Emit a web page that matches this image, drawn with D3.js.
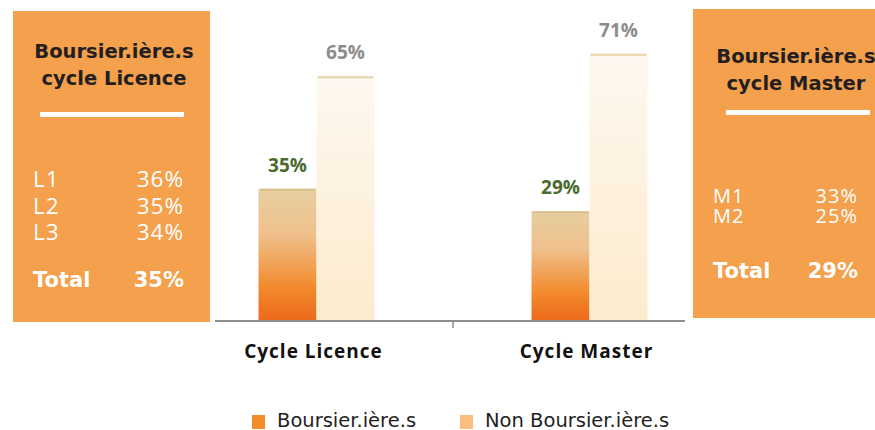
<!doctype html>
<html lang="fr">
    <head>
        <meta charset="utf-8">
        <title>Boursier.ière.s</title>
        <script src="https://cdn.jsdelivr.net/npm/d3@7"></script>
        <style>
            body { margin: 0; background: #fff; }
            svg { display: block; }
            .panel-title { font-family: "DejaVu Sans", sans-serif; font-weight: bold; fill: #231f20; }
            .panel-row { font-family: "Open Sans", sans-serif; font-weight: 400; fill: #fff; letter-spacing: 1px; }
            .panel-total { font-family: "DejaVu Sans", sans-serif; font-weight: bold; fill: #fff; }
            .cat-label { font-family: "Open Sans", sans-serif; font-weight: bold; font-size: 19px; letter-spacing: 1px; fill: #111; }
            .val-label { font-family: "Open Sans", sans-serif; font-weight: bold; font-size: 19px; }
            .legend-text { font-family: "DejaVu Sans", sans-serif; font-size: 19.5px; fill: #231f20; }
        </style>
    </head>
    <body>
        <div id="d3Canvas"></div>

        <script type="text/javascript">

            // data
            var categories = ["Cycle Licence", "Cycle Master"];
            var seriesNames = ["Boursier.ière.s", "Non Boursier.ière.s"];
            var boursiers = [35, 29];
            var nonBoursiers = [65, 71];

            // side panels
            var licenceRows = ["L1", "L2", "L3"];
            var licenceValues = [36, 35, 34];
            var licenceTotal = 35;
            var masterRows = ["M1", "M2"];
            var masterValues = [33, 25];
            var masterTotal = 29;

            var width = 875, height = 430;

            var svg = d3.select("#d3Canvas").append("svg")
                .attr("width", width)
                .attr("height", height);

            var defs = svg.append("defs");

            // gradient for the boursier bars (orange at the bottom, tan at top)
            var g1 = defs.append("linearGradient").attr("id", "gradB")
                .attr("x1", 0).attr("y1", 0).attr("x2", 0).attr("y2", 1);
            g1.append("stop").attr("offset", "0%").attr("stop-color", "#e6cfa0");
            g1.append("stop").attr("offset", "35%").attr("stop-color", "#f0c08c");
            g1.append("stop").attr("offset", "75%").attr("stop-color", "#f28a2c");
            g1.append("stop").attr("offset", "100%").attr("stop-color", "#ec6a1c");

            var g2 = defs.append("linearGradient").attr("id", "gradN")
                .attr("x1", 0).attr("y1", 0).attr("x2", 0).attr("y2", 1);
            g2.append("stop").attr("offset", "0%").attr("stop-color", "#fdf8f0");
            g2.append("stop").attr("offset", "100%").attr("stop-color", "#fdebcd");

            // scales
            var x0 = d3.scaleBand().domain(categories).range([180, 726]);
            var x1 = d3.scaleBand().domain(seriesNames).range([0, 116]);
            var y = d3.scaleLinear().domain([0, 80]).range([320, 20]);

            var rows = categories.map(function(c, i) {
                return { cat: c, values: [boursiers[i], nonBoursiers[i]] };
            });

            var fills = ["url(#gradB)", "url(#gradN)"];
            var topLines = ["#d9c08e", "#e6d4a6"];
            var labelColors = ["#4b6b2c", "#8c8c8c"];

            var groups = svg.selectAll(".grp").data(rows).enter().append("g")
                .attr("class", "grp")
                .attr("transform", function(d) {
                    return "translate(" + (x0(d.cat) + x0.bandwidth() / 2 - 58) + ",0)";
                });

            var barData = function(d) {
                return d.values.map(function(v, j) { return { s: seriesNames[j], v: v, j: j }; });
            };

            groups.selectAll("rect.bar").data(barData).enter().append("rect")
                .attr("class", "bar")
                .attr("x", function(d) { return x1(d.s); })
                .attr("y", function(d) { return y(d.v); })
                .attr("width", x1.bandwidth())
                .attr("height", function(d) { return y(0) - y(d.v); })
                .style("fill", function(d) { return fills[d.j]; });

            groups.selectAll("line.top").data(barData).enter().append("line")
                .attr("x1", function(d) { return x1(d.s) + 1; })
                .attr("x2", function(d) { return x1(d.s) + x1.bandwidth() - 1; })
                .attr("y1", function(d) { return y(d.v) + 1; })
                .attr("y2", function(d) { return y(d.v) + 1; })
                .attr("stroke", function(d) { return topLines[d.j]; })
                .attr("stroke-width", 2);

            groups.selectAll("text.val").data(barData).enter().append("text")
                .attr("class", "val-label")
                .attr("x", function(d) { return x1(d.s) + x1.bandwidth() / 2; })
                .attr("y", function(d) { return y(d.v) - 17; })
                .attr("text-anchor", "middle")
                .style("fill", function(d) { return labelColors[d.j]; })
                .text(function(d) { return d.v + "%"; });

            // x axis: baseline with one tick between the groups
            svg.append("line")
                .attr("x1", 215).attr("x2", 685)
                .attr("y1", y(0) + 1).attr("y2", y(0) + 1)
                .attr("stroke", "#8e8e8e").attr("stroke-width", 2);
            svg.append("line")
                .attr("x1", x0.range()[0] + x0.step()).attr("x2", x0.range()[0] + x0.step())
                .attr("y1", y(0) + 1).attr("y2", y(0) + 8)
                .attr("stroke", "#8e8e8e").attr("stroke-width", 1.5);

            svg.selectAll(".cat-label").data(categories).enter().append("text")
                .attr("class", "cat-label")
                .attr("x", function(d) { return x0(d) + x0.bandwidth() / 2 - 3; })
                .attr("y", 358)
                .attr("text-anchor", "middle")
                .text(function(d) { return d; });

            // legend
            var legendX = [252, 460];
            var legendColors = ["#f28c28", "#f9bf80"];
            var legend = svg.selectAll(".leg").data(seriesNames).enter().append("g")
                .attr("transform", function(d, i) { return "translate(" + legendX[i] + ",415)"; });
            legend.append("rect").attr("width", 13).attr("height", 14)
                .style("fill", function(d, i) { return legendColors[i]; });
            legend.append("text").attr("class", "legend-text")
                .attr("x", 25).attr("y", 12)
                .text(function(d) { return d; });

            // side panels
            var drawPanel = function(p) {
                var g = svg.append("g");
                g.append("rect")
                    .attr("x", p.x).attr("y", p.y)
                    .attr("width", p.w).attr("height", p.h)
                    .style("fill", "#f4a04c");
                g.append("text").attr("class", "panel-title")
                    .attr("x", p.cx).attr("y", p.titleY)
                    .attr("text-anchor", "middle")
                    .style("font-size", "19.5px")
                    .text("Boursier.ière.s");
                g.append("text").attr("class", "panel-title")
                    .attr("x", p.cx).attr("y", p.titleY + 27)
                    .attr("text-anchor", "middle")
                    .style("font-size", "19.5px")
                    .text(p.sub);
                g.append("rect")
                    .attr("x", p.lineX1).attr("y", p.lineY)
                    .attr("width", p.lineX2 - p.lineX1).attr("height", 5)
                    .style("fill", "#fff");
                p.rows.forEach(function(r, i) {
                    g.append("text").attr("class", "panel-row")
                        .attr("x", p.lx).attr("y", p.rowY + i * p.rowGap)
                        .style("font-size", p.fs + "px")
                        .text(r);
                    g.append("text").attr("class", "panel-row")
                        .attr("x", p.rx).attr("y", p.rowY + i * p.rowGap)
                        .attr("text-anchor", "end")
                        .style("font-size", p.fs + "px")
                        .text(p.values[i] + "%");
                });
                g.append("text").attr("class", "panel-total")
                    .attr("x", p.lx).attr("y", p.totalY)
                    .style("font-size", "21px")
                    .text("Total");
                g.append("text").attr("class", "panel-total")
                    .attr("x", p.rx).attr("y", p.totalY)
                    .attr("text-anchor", "end")
                    .style("font-size", "21px")
                    .text(p.total + "%");
            };

            drawPanel({
                x: 13, y: 11, w: 197, h: 311, cx: 114, titleY: 58,
                sub: "cycle Licence", lineX1: 40, lineX2: 184, lineY: 112,
                rows: licenceRows, values: licenceValues, total: licenceTotal,
                lx: 33, rx: 184, rowY: 187, rowGap: 26.5, fs: 22.5, totalY: 287
            });

            drawPanel({
                x: 693, y: 9, w: 182, h: 309, cx: 796, titleY: 63,
                sub: "cycle Master", lineX1: 726, lineX2: 870, lineY: 110,
                rows: masterRows, values: masterValues, total: masterTotal,
                lx: 713, rx: 858, rowY: 203, rowGap: 20, fs: 20, totalY: 278
            });

        </script>
    </body>
</html>
